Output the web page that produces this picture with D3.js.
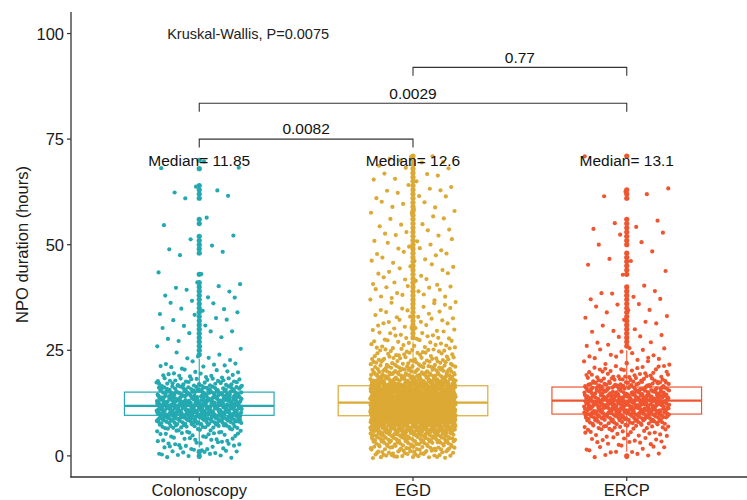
<!DOCTYPE html>
<html>
<head>
<meta charset="utf-8">
<script src="https://cdn.jsdelivr.net/npm/d3@7"></script>
<style>
  body { margin: 0; background: #fff; }
  text { font-family: "Liberation Sans", Arial, sans-serif; }
</style>
</head>
<body>
<div id="chart"></div>
<script>
// groups and colours
const categories = ["Colonoscopy", "EGD", "ERCP"];
const colors = ["#24A9B1", "#DCA935", "#EF5630"];

// box statistics (hours)
const medians = [11.85, 12.6, 13.1];
const q1 = [9.6, 9.5, 9.9];
const q3 = [15.1, 16.6, 16.3];

// number of patients per whole hour of NPO duration (index = hour 0..71)
const coloCounts = [8, 9, 9, 10, 10, 11, 14, 22, 35, 48, 55, 58, 55, 50, 45, 38, 30, 22, 15, 9,
  6, 5, 4, 3, 3, 1, 2, 1, 2, 2, 2, 2, 2, 2, 3, 2, 2, 2, 2, 2,
  2, 2, 0, 2, 0, 0, 0, 0, 2, 1, 1, 1, 1, 0, 0, 1, 1, 0, 0, 0,
  0, 1, 2, 1, 1, 0, 0, 0, 2, 0, 1, 0];
const egdCounts = [20, 22, 25, 28, 32, 40, 55, 75, 95, 110, 115, 118, 115, 105, 95, 85, 72, 60, 48, 38,
  30, 24, 20, 17, 14, 12, 10, 8, 7, 6, 6, 5, 5, 5, 4, 4, 5, 4, 4, 4,
  4, 4, 3, 3, 3, 3, 3, 3, 3, 3, 3, 3, 2, 3, 2, 2, 2, 2, 3, 2,
  3, 2, 2, 3, 2, 2, 2, 2, 2, 2, 3, 2];
const ercpCounts = [5, 5, 6, 7, 7, 9, 11, 16, 25, 35, 42, 46, 48, 48, 45, 40, 34, 27, 20, 14,
  10, 8, 6, 5, 4, 4, 3, 2, 2, 2, 2, 2, 2, 2, 2, 2, 2, 2, 2, 2,
  1, 0, 0, 1, 1, 1, 1, 1, 1, 0, 1, 1, 1, 1, 2, 1, 1, 0, 0, 0,
  0, 1, 1, 2, 0, 0, 0, 0, 0, 0, 0, 1];
const groupCounts = [coloCounts, egdCounts, ercpCounts];

// pairwise Wilcoxon comparisons
const pairs = [[0, 1], [0, 2], [1, 2]];
const pValues = ["0.0082", "0.0029", "0.77"];
const kruskalP = "0.0075";

const yTicks = [0, 25, 50, 75, 100];

const width = 747, height = 500;
const svg = d3.select("#chart").append("svg")
  .attr("width", width).attr("height", height);

const x = d3.scaleLinear().domain([0.4, 3.6]).range([71, 755]);
const y = d3.scaleLinear().domain([-5, 105.1]).range([477, 12]);

// deterministic jitter (van der Corput sequence)
function vdc(n, base) {
  let v = 0, denom = 1;
  while (n > 0) { denom *= base; v += (n % base) / denom; n = Math.floor(n / base); }
  return v;
}

// boxplots first
groupCounts.forEach((counts, g) => {
  const cx = g + 1, col = colors[g];
  const iqr = q3[g] - q1[g];
  const hours = [];
  counts.forEach((c, h) => { if (c > 0) hours.push(h); });
  const hiFence = q3[g] + 1.5 * iqr, loFence = q1[g] - 1.5 * iqr;
  const whiHi = d3.max(hours.filter(h => h <= hiFence));
  const whiLo = d3.min(hours.filter(h => h >= loFence));
  const outliers = hours.filter(h => h > hiFence || h < loFence);

  const bg = svg.append("g");
  bg.append("line").attr("x1", x(cx)).attr("x2", x(cx))
    .attr("y1", y(q3[g])).attr("y2", y(whiHi))
    .attr("stroke", col).attr("stroke-width", 1.1);
  bg.append("line").attr("x1", x(cx)).attr("x2", x(cx))
    .attr("y1", y(q1[g])).attr("y2", y(whiLo))
    .attr("stroke", col).attr("stroke-width", 1.1);
  bg.append("rect")
    .attr("x", x(cx - 0.35)).attr("width", x(cx + 0.35) - x(cx - 0.35))
    .attr("y", y(q3[g])).attr("height", y(q1[g]) - y(q3[g]))
    .attr("fill", "#fff").attr("stroke", col).attr("stroke-width", 1.2);
  bg.append("line").attr("x1", x(cx - 0.35)).attr("x2", x(cx + 0.35))
    .attr("y1", y(medians[g])).attr("y2", y(medians[g]))
    .attr("stroke", col).attr("stroke-width", 2.3);
  bg.selectAll("circle").data(outliers).join("circle")
    .attr("cx", x(cx)).attr("cy", d => y(d)).attr("r", 2.6)
    .attr("fill", col);
});

// jittered points
groupCounts.forEach((counts, g) => {
  const pts = [];
  let idx = 1;
  counts.forEach((c, h) => {
    for (let k = 0; k < c; k++) { pts.push({ h: h, i: idx }); idx++; }
  });
  svg.append("g").selectAll("circle").data(pts).join("circle")
    .attr("cx", d => x(g + 1 + (vdc(d.i, 2) - 0.5) * 0.4))
    .attr("cy", d => y(d.h + (vdc(d.i * 5 + 1, 3) - 0.5) * 1.0))
    .attr("r", 2.1)
    .attr("fill", colors[g]);
});

// axes
const axisColor = "#333";
svg.append("line").attr("x1", 71).attr("x2", 71).attr("y1", 12).attr("y2", 477.6)
  .attr("stroke", axisColor).attr("stroke-width", 1.3);
svg.append("line").attr("x1", 70.4).attr("x2", 747).attr("y1", 477).attr("y2", 477)
  .attr("stroke", axisColor).attr("stroke-width", 1.3);

const yt = svg.append("g").selectAll("g").data(yTicks).join("g");
yt.append("line").attr("x1", 67).attr("x2", 71)
  .attr("y1", d => y(d)).attr("y2", d => y(d))
  .attr("stroke", axisColor).attr("stroke-width", 1.2);
yt.append("text").attr("x", 64).attr("y", d => y(d))
  .attr("text-anchor", "end").attr("dominant-baseline", "central")
  .attr("font-size", 16.5).attr("fill", "#1a1a1a").text(d => d);

const xt = svg.append("g").selectAll("g").data(categories).join("g");
xt.append("line").attr("x1", (d, i) => x(i + 1)).attr("x2", (d, i) => x(i + 1))
  .attr("y1", 477).attr("y2", 481)
  .attr("stroke", axisColor).attr("stroke-width", 1.2);
xt.append("text").attr("x", (d, i) => x(i + 1)).attr("y", 496)
  .attr("text-anchor", "middle").attr("font-size", 16.5).attr("fill", "#1a1a1a").text(d => d);

svg.append("text")
  .attr("transform", `translate(28, ${(12 + 477) / 2}) rotate(-90)`)
  .attr("text-anchor", "middle").attr("font-size", 16.5).attr("fill", "#1a1a1a")
  .text("NPO duration (hours)");

// median labels
svg.append("g").selectAll("text").data(medians).join("text")
  .attr("x", (d, i) => x(i + 1)).attr("y", y(70))
  .attr("text-anchor", "middle").attr("dominant-baseline", "central")
  .attr("font-size", 15.5).attr("fill", "#111")
  .text(d => "Median= " + d);

// comparison brackets
pairs.forEach((p, i) => {
  const by = 75 + i * 8.5;
  const g = svg.append("g");
  g.append("path")
    .attr("d", `M${x(p[0] + 1)},${y(by - 2)}V${y(by)}H${x(p[1] + 1)}V${y(by - 2)}`)
    .attr("fill", "none").attr("stroke", "#333").attr("stroke-width", 1.1);
  g.append("text")
    .attr("x", (x(p[0] + 1) + x(p[1] + 1)) / 2).attr("y", y(by + 2.4))
    .attr("text-anchor", "middle").attr("dominant-baseline", "central")
    .attr("font-size", 15.5).attr("fill", "#111").text(pValues[i]);
});

svg.append("text").attr("x", x(0.85)).attr("y", y(100))
  .attr("dominant-baseline", "central").attr("font-size", 14.5).attr("fill", "#222")
  .text("Kruskal-Wallis, P=" + kruskalP);
</script>
</body>
</html>
